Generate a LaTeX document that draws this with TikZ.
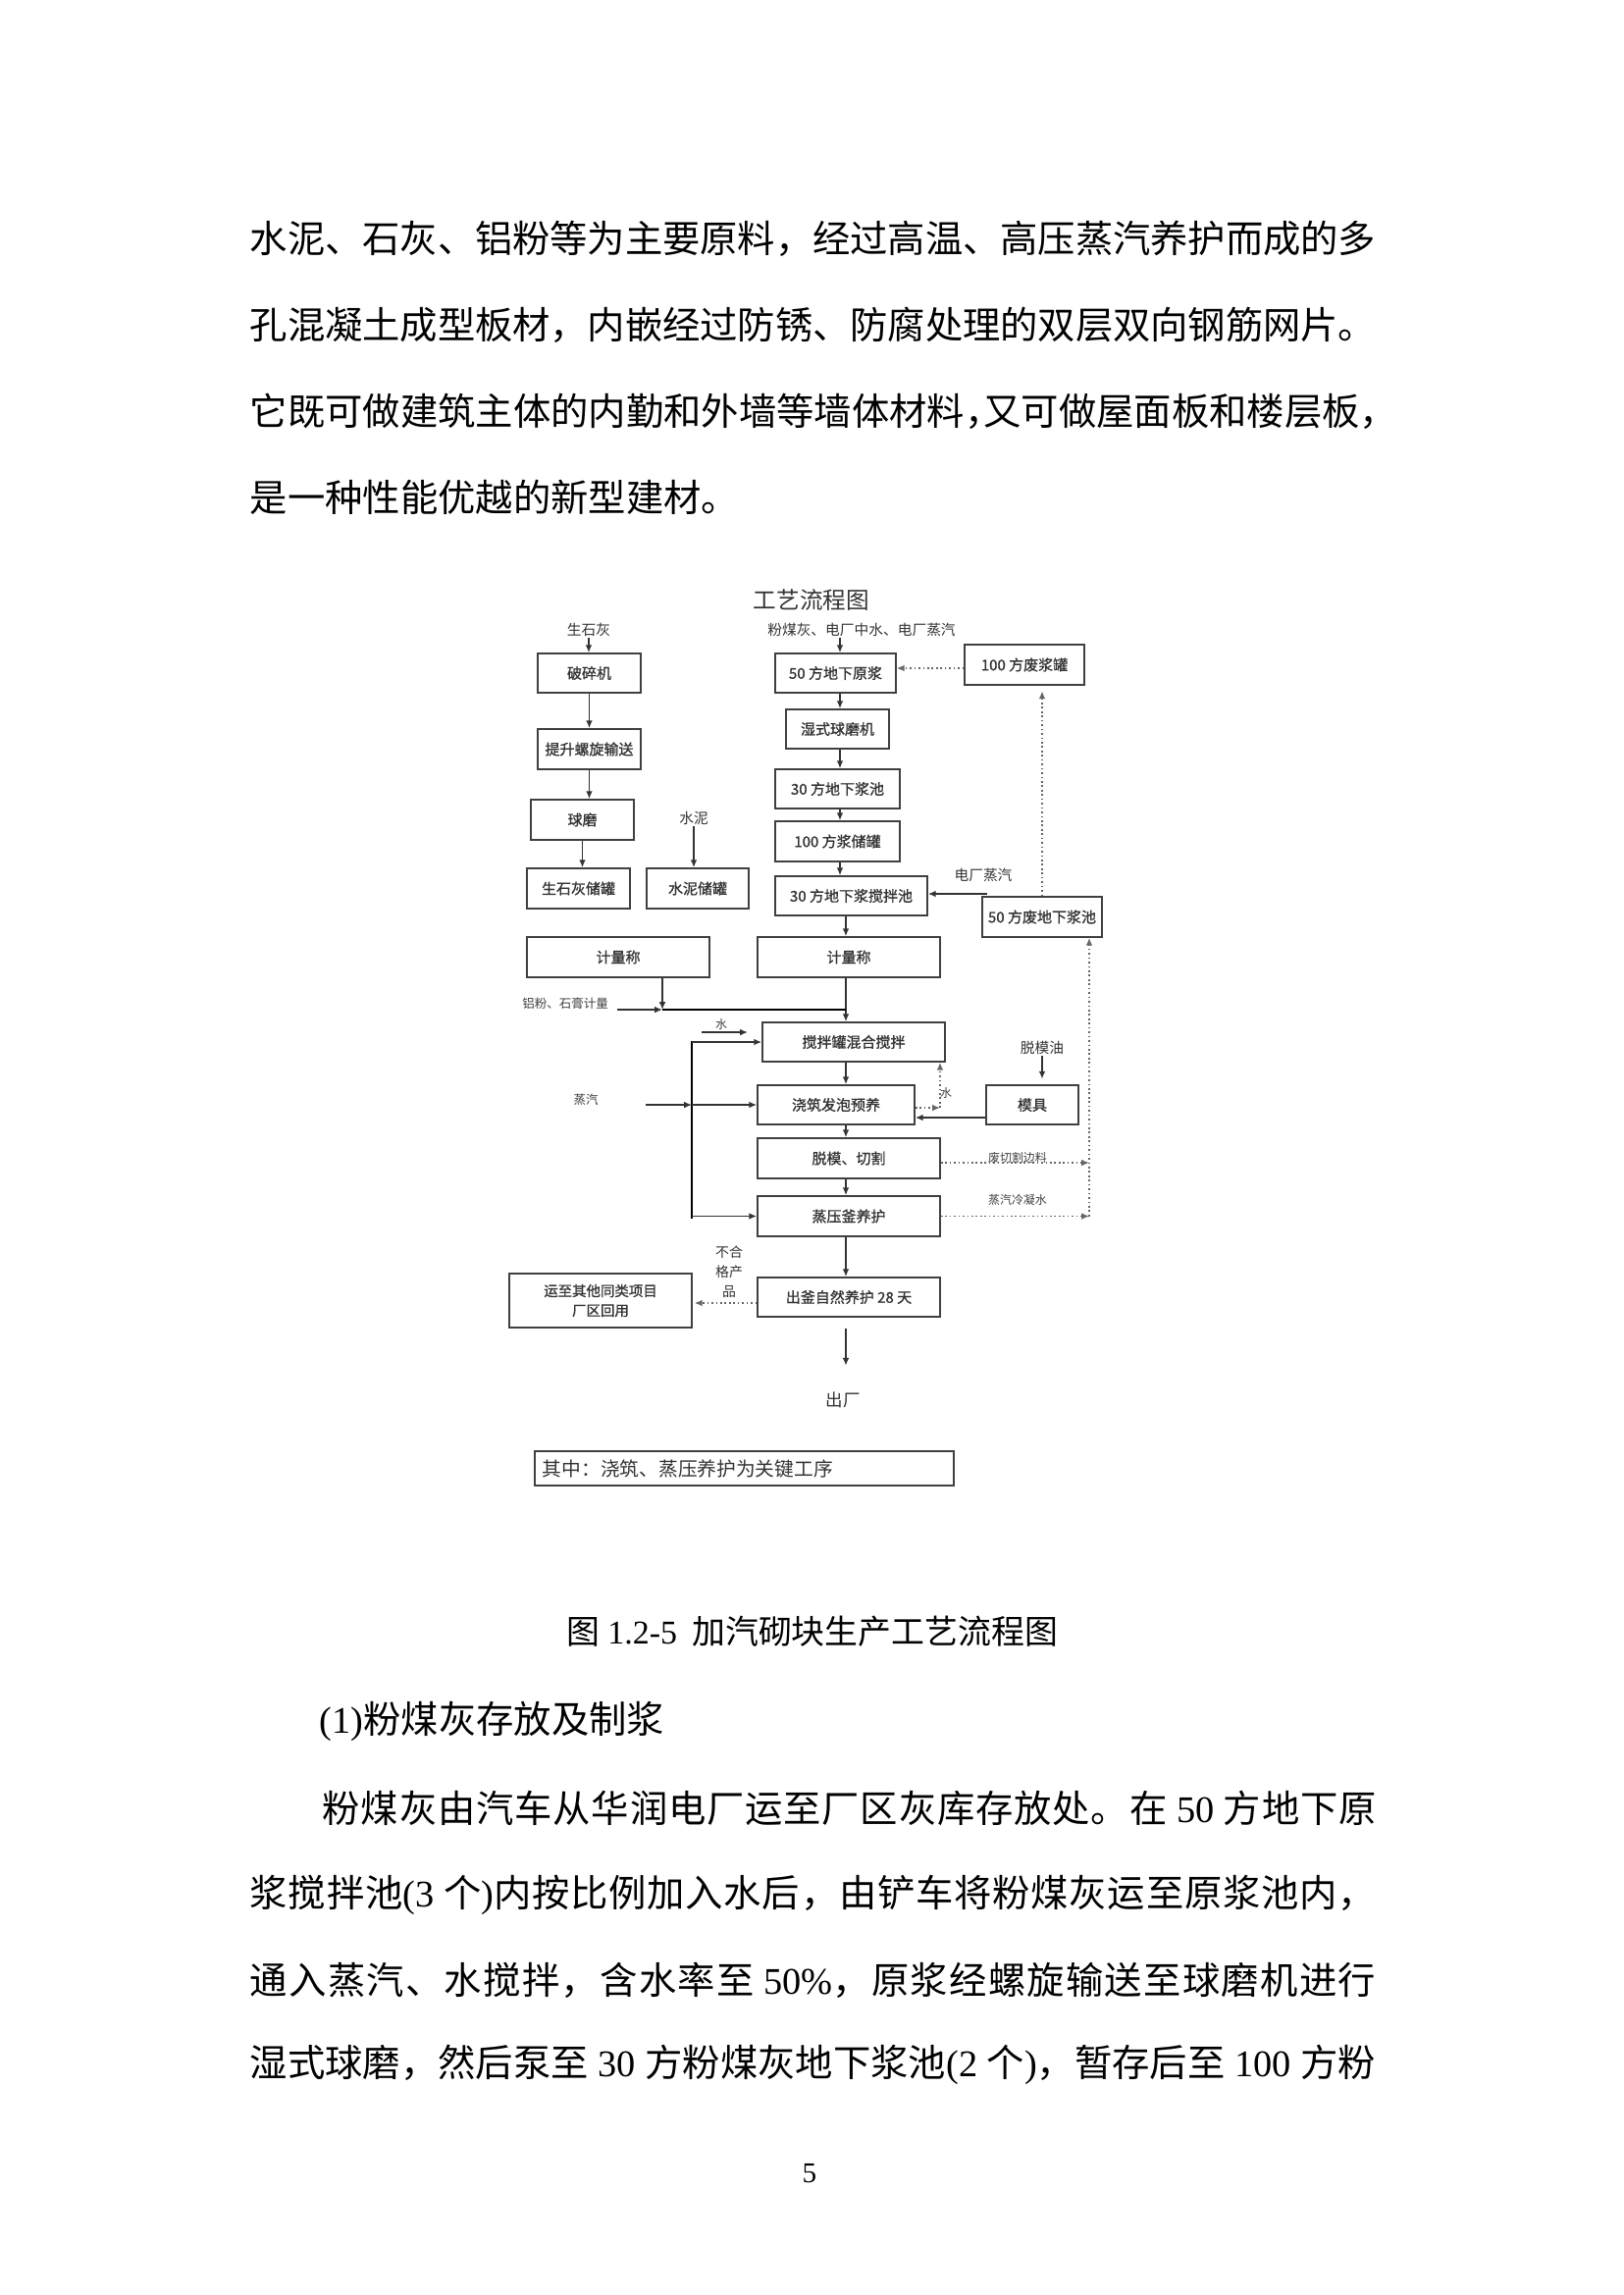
\documentclass[tikz,border=0pt]{standalone}
\usepackage{fontspec}
\setmainfont{Liberation Serif}
\newfontfamily\cjk{Noto Sans CJK SC}
\newfontfamily\cjkb[FakeBold=1]{Noto Sans CJK SC}
\usetikzlibrary{arrows.meta}
\newcommand\lat[1]{{\rmfamily #1}}
\newcommand\fsp{\hspace{.25em}}
\newcount\hanzi
\hanzi="4E00
\loop \XeTeXcharclass\hanzi=7 \advance\hanzi by 1 \ifnum\hanzi<"A000 \repeat
\XeTeXcharclass"3001=7
\XeTeXcharclass"3002=7
\XeTeXcharclass"FF0C=7
\XeTeXinterchartokenstate=1
\XeTeXinterchartoks 7 7 = {\hskip0pt plus 1pt minus .3pt\relax}
\begin{document}
\begin{tikzpicture}[
x=0.36pt,y=-0.36pt,
line width=0.6pt,
wh/.style 2 args={minimum width=#1*0.36pt,minimum height=#2*0.36pt},
box/.style={draw=black!75,inner sep=0pt,font=\cjkb\fontsize{5.4}{6}\selectfont,text=black!80},
lab/.style={inner sep=0pt,font=\cjk\fontsize{5.3}{6}\selectfont,text=black!80},
small/.style={inner sep=0pt,font=\cjk\fontsize{4.3}{5}\selectfont,text=black!75},
arr/.style={draw=black!80,-{Latex[length=2.8pt,width=2.4pt]}},
darr/.style={draw=black!60,densely dotted,-{Latex[length=2.8pt,width=2.4pt]}},
body/.style={anchor=west,inner sep=0pt,font=\cjk\fontsize{13.8}{16}\selectfont}
]
\fill[white] (0,0) rectangle (1654,2339);
\useasboundingbox (0,0) rectangle (1654,2339);

\node[body] (t1) at (254,243) {\makebox[413pt][s]{水泥、石灰、铝粉等为主要原料，经过高温、高压蒸汽养护而成的多}};
\node[body] (t2) at (254,331) {\makebox[413pt][s]{孔混凝土成型板材，内嵌经过防锈、防腐处理的双层双向钢筋网片。}};
\node[body] (t3) at (254,419) {它既可做建筑主体的内勤和外墙等墙体材料，\kern-.5em 又可做屋面板和楼层板，};
\node[body] (t4) at (254,507) {是一种性能优越的新型建材。};

\node[lab,font=\cjk\fontsize{8.5}{10}\selectfont] (title) at (827,612) {工艺流程图};

\node[lab] (sshi) at (600,642) {生石灰};
\node[box,wh={105}{40}] (psj) at (600.5,686) {破碎机};
\node[box,wh={105}{41}] (tsl) at (600.5,763.5) {提升螺旋输送};
\node[box,wh={105}{41}] (qm) at (593.5,835.5) {球磨};
\node[box,wh={105}{41}] (shcg) at (589.5,905.5) {生石灰储罐};
\node[lab] (sn) at (707,834) {水泥};
\node[box,wh={104}{41}] (snc) at (711,905.5) {水泥储罐};

\node[lab] (fmh) at (878,642) {粉煤灰、电厂中水、电厂蒸汽};
\node[box,wh={123}{40}] (yj) at (851.5,686) {50 方地下原浆};
\node[box,wh={105}{40}] (sqm) at (853.5,743) {湿式球磨机};
\node[box,wh={127}{40}] (jc30) at (853.5,804) {30 方地下浆池};
\node[box,wh={127}{41}] (cg100) at (853.5,857.5) {100 方浆储罐};
\node[box,wh={155}{40}] (jbc) at (867.5,913) {30 方地下浆搅拌池};
\node[box,wh={122}{41}] (fjg) at (1044,677.5) {100 方废浆罐};
\node[lab] (dczq) at (1002,892) {电厂蒸汽};
\node[box,wh={122}{41}] (fjc) at (1062,934.5) {50 方废地下浆池};

\node[box,wh={186}{41}] (jl1) at (630,975.5) {计量称};
\node[box,wh={186}{41}] (jl2) at (865,975.5) {计量称};
\node[small,font=\cjk\fontsize{4.5}{5}\selectfont] (lf) at (576,1023) {铝粉、石膏计量};
\node[box,wh={186}{40}] (mix) at (870,1062) {搅拌罐混合搅拌};
\node[small] (shui1) at (735,1044) {水};
\node[small,font=\cjk\fontsize{4.5}{5}\selectfont] (zq) at (597,1121) {蒸汽};
\node[box,wh={160}{40}] (jz) at (852,1126) {浇筑发泡预养};
\node[lab] (tmy) at (1062,1068) {脱模油};
\node[box,wh={94}{40}] (mj) at (1052,1126) {模具};
\node[small] (shui2) at (964,1114) {水};
\node[box,wh={186}{41}] (tm) at (865,1180.5) {脱模、切割};
\node[small] (fq) at (1037,1180) {废切割边料};
\node[box,wh={186}{41}] (zy) at (865,1239.5) {蒸压釜养护};
\node[small] (lns) at (1037,1223) {蒸汽冷凝水};
\node[lab,align=center,font=\cjk\fontsize{5}{7.2}\selectfont] (bhg) at (743,1296) {不合\\格产\\品};
\node[box,wh={186}{40}] (cf) at (865,1322) {出釜自然养护 28 天};
\node[box,wh={186}{55},align=center,font=\cjkb\fontsize{5.2}{7.2}\selectfont] (hy) at (612,1325.5) {运至其他同类项目\\厂区回用};
\node[lab,font=\cjk\fontsize{6.3}{7}\selectfont] (cc) at (859,1427) {出厂};
\node[box,minimum height=12.6pt,inner xsep=2.9pt,text width=148pt,align=left,font=\cjk\fontsize{7.1}{8}\selectfont] (note) at (758.5,1496.5) {其中：浇筑、蒸压养护为关键工序};

\coordinate (tr) at (856,0);
\coordinate (tk) at (862,0);
\coordinate (lv) at (705,0);
\coordinate (rv) at (1110,0);
\coordinate (dcq) at (1006,911);
\coordinate (hj) at (675,1029);
\coordinate (lfa) at (629,1029);
\coordinate (s1a) at (715,1052);
\coordinate (s1b) at (762,1052);
\coordinate (zqa) at (658,1126);
\coordinate (w2) at (958,1129);

\draw[arr] (sshi) -- (sshi |- psj.north);
\draw[arr] (psj) -- (tsl);
\draw[arr] (tsl.south) -- (tsl.south |- qm.north);
\draw[arr] (qm.south) -- (qm.south |- shcg.north);
\draw[arr] (sn) -- (sn |- snc.north);

\draw[arr] (fmh.south -| tr) -- (yj.north -| tr);
\draw[arr] (yj.south -| tr) -- (sqm.north -| tr);
\draw[arr] (sqm.south -| tr) -- (jc30.north -| tr);
\draw[arr] (jc30.south -| tr) -- (cg100.north -| tr);
\draw[arr] (cg100.south -| tr) -- (jbc.north -| tr);
\draw[darr] (fjg.west |- 0,681) -- (yj.east |- 0,681);
\draw[darr,shorten >=2pt] (fjc.north) -- (fjc.north |- fjg.south);
\draw[arr] (dcq) -- (dcq -| jbc.east);

\draw[arr] (jbc.south -| tk) -- (jl2.north -| tk);
\draw[arr] (jl2.south -| tk) -- (mix.north -| tk);
\draw[arr] (jl1.south -| hj) -- (hj);
\draw[arr] (lfa) -- (hj);
\draw (hj) -- (hj -| tk);
\draw[arr] (s1a) -- (s1b);

\draw ([yshift=0.5pt]mix.west -| lv) -- ([yshift=-1pt]zy.west -| lv);
\draw[arr] (mix.west -| lv) -- (mix.west);
\draw[arr] (zqa) -- (zqa -| lv);
\draw[arr] (zqa -| lv) -- (jz.west);
\draw[arr] (zy.west -| lv) -- (zy.west);

\draw[arr] (mix.south -| tk) -- (jz.north -| tk);
\draw[arr] (jz.south -| tk) -- (tm.north -| tk);
\draw[arr] (tm.south -| tk) -- (zy.north -| tk);
\draw[arr] (zy.south -| tk) -- (cf.north -| tk);
\draw[arr,shorten <=4pt,shorten >=9.5pt] (cf.south -| tk) -- (cc.north -| tk);

\draw[arr,shorten >=2pt] (tmy.south) -- (tmy.south |- mj.north);
\draw[arr] (mj.west |- 0,1139) -- (jz.east |- 0,1139);
\draw[darr] (jz.east |- w2) -- (w2);
\draw[darr] (w2) -- (w2 |- mix.south);

\draw[darr] (tm.east |- 0,1185) -- (rv |- 0,1185);
\draw[darr] (zy.east) -- (zy.east -| rv);
\draw[darr] (zy.east -| rv) -- (rv |- fjc.south);
\draw[darr,shorten >=0.7pt] (cf.west |- 0,1328) -- (hy.east |- 0,1328);

\node[inner sep=0pt,font=\cjk\fontsize{12.2}{14}\selectfont] (cap) at (828,1663) {图 \lat{1.2-5}\hspace{0.45em}加汽砌块生产工艺流程图};
\node[body] (h1) at (325,1754) {\lat{(1)}粉煤灰存放及制浆};
\node[body] (p1) at (328,1843) {\makebox[386.6pt][s]{粉煤灰由汽车从华润电厂运至厂区灰库存放处。在\fsp\lat{50}\fsp 方地下原}};
\node[body] (p2) at (254,1931) {\makebox[413pt][s]{浆搅拌池\lat{(3}\fsp 个\lat{)}内按比例加入水后，由铲车将粉煤灰运至原浆池内，}};
\node[body] (p3) at (254,2018) {\makebox[413pt][s]{通入蒸汽、水搅拌，含水率至\fsp\lat{50\%}，原浆经螺旋输送至球磨机进行}};
\node[body] (p4) at (254,2104) {\makebox[413pt][s]{湿式球磨，然后泵至\fsp\lat{30}\fsp 方粉煤灰地下浆池\lat{(2}\fsp 个\lat{)}，暂存后至\fsp\lat{100}\fsp 方粉}};
\node[inner sep=0pt,font=\fontsize{10.5}{12}\selectfont] (pg) at (825,2215) {5};
\end{tikzpicture}
\end{document}
